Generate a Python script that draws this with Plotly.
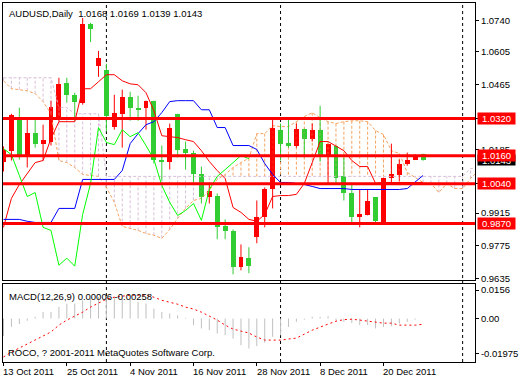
import plotly.graph_objects as go

# ---------------- data ----------------
symbol = "AUDUSD"
period = "Daily"
last_ohlc = [1.0168, 1.0169, 1.0139, 1.0143]

opens = [1.0135, 1.0182, 1.0323, 1.0153, 1.0259, 1.0212, 1.0221, 1.0327, 1.0472, 1.0421,
         1.0387, 1.0724, 1.0545, 1.0528, 1.0285, 1.0340, 1.0413, 1.0366, 1.0366, 1.0396,
         1.0144, 1.0135, 1.0340, 1.0191, 1.0170, 1.0084, 0.9982, 0.9990, 0.9858, 0.9837,
         0.9683, 0.9722, 0.9811, 0.9897, 1.0016, 1.0272, 1.0217, 1.0204, 1.0276, 1.0234,
         1.0272, 1.0153, 1.0204, 1.0072, 0.9999, 0.9901, 0.9905, 0.9982, 0.9875, 1.0063,
         1.0080, 1.0123, 1.0144, 1.0168]
highs = [1.0200, 1.0340, 1.0366, 1.0323, 1.0323, 1.0293, 1.0396, 1.0494, 1.0494, 1.0430,
         1.0750, 1.0729, 1.0609, 1.0554, 1.0421, 1.0443, 1.0434, 1.0417, 1.0396, 1.0396,
         1.0204, 1.0298, 1.0340, 1.0221, 1.0182, 1.0114, 1.0046, 0.9999, 0.9888, 0.9845,
         0.9781, 0.9769, 0.9969, 1.0025, 1.0323, 1.0298, 1.0319, 1.0298, 1.0276, 1.0298,
         1.0374, 1.0212, 1.0204, 1.0153, 1.0042, 1.0016, 1.0016, 0.9982, 1.0067, 1.0212,
         1.0144, 1.0174, 1.0167, 1.0169]
lows = [1.0093, 1.0140, 1.0144, 1.0110, 1.0195, 1.0140, 1.0204, 1.0306, 1.0387, 1.0310,
        1.0379, 1.0647, 1.0498, 1.0264, 1.0272, 1.0195, 1.0310, 1.0310, 1.0272, 1.0127,
        1.0054, 1.0101, 1.0153, 1.0101, 1.0046, 0.9956, 0.9956, 0.9803, 0.9803, 0.9653,
        0.9670, 0.9658, 0.9786, 0.9854, 0.9935, 1.0140, 1.0195, 1.0195, 1.0153, 1.0221,
        1.0135, 1.0042, 1.0042, 0.9969, 0.9875, 0.9854, 0.9905, 0.9871, 0.9875, 1.0042,
        1.0050, 1.0118, 1.0142, 1.0139]
closes = [1.0187, 1.0336, 1.0153, 1.0259, 1.0212, 1.0229, 1.0370, 1.0468, 1.0421, 1.0391,
          1.0724, 1.0703, 1.0579, 1.0332, 1.0345, 1.0413, 1.0366, 1.0357, 1.0396, 1.0144,
          1.0135, 1.0281, 1.0187, 1.0170, 1.0084, 0.9982, 1.0008, 0.9854, 0.9837, 0.9683,
          0.9726, 0.9688, 0.9897, 1.0020, 1.0281, 1.0212, 1.0204, 1.0276, 1.0234, 1.0272,
          1.0153, 1.0212, 1.0067, 0.9999, 0.9897, 0.9909, 0.9965, 0.9880, 1.0067, 1.0084,
          1.0123, 1.0144, 1.0165, 1.0143]

tenkan = [0.9854, 0.9978, 1.0037, 1.0084, 1.0131, 1.0140, 1.0234, 1.0306, 1.0306, 1.0306,
          1.0447, 1.0447, 1.0477, 1.0507, 1.0507, 1.0481, 1.0468, 1.0464, 1.0430, 1.0353,
          1.0246, 1.0242, 1.0238, 1.0229, 1.0221, 1.0182, 1.0136, 1.0097, 1.0063, 0.9939,
          0.9918, 0.9888, 0.9880, 0.9909, 0.9986, 0.9990, 0.9990, 0.9995, 1.0042, 1.0131,
          1.0221, 1.0221, 1.0200, 1.0182, 1.0140, 1.0114, 1.0114, 1.0042, 1.0046, 1.0046,
          1.0046, 1.0046, 1.0046, 1.0046]
kijun = [0.9888, 0.9888, 0.9888, 0.9880, 0.9875, 0.9875, 0.9875, 0.9935, 0.9935, 0.9935,
         1.0059, 1.0059, 1.0059, 1.0059, 1.0059, 1.0097, 1.0212, 1.0255, 1.0293, 1.0306,
         1.0345, 1.0392, 1.0396, 1.0396, 1.0396, 1.0357, 1.0357, 1.0281, 1.0281, 1.0204,
         1.0204, 1.0204, 1.0187, 1.0127, 1.0080, 1.0046, 1.0046, 1.0042, 1.0037, 1.0029,
         1.0020, 1.0020, 1.0020, 1.0020, 1.0016, 1.0016, 1.0016, 1.0016, 1.0016, 1.0016,
         1.0016, 1.0020, 1.0050, 1.0076]
chikou = [1.0191, 1.0165, 1.0076, 0.9986, 1.0003, 0.9854, 0.9841, 0.9692, 0.9722, 0.9688,
          0.9909, 1.0042, 1.0281, 1.0217, 1.0208, 1.0272, 1.0242, 1.0259, 1.0204, 1.0145,
          1.0033, 0.9961, 0.9905, 0.9926, 0.9956, 0.9884, 1.0016, 1.0072, 1.0101, 1.0131,
          1.0161, 1.0148]
span_a = [1.0481, 1.0447, 1.0443, 1.0438, 1.0426, 1.0392, 1.0340, 1.0140, 1.0131, 1.0110,
          1.0080, 1.0076, 1.0072, 1.0025, 0.9961, 0.9858, 0.9850, 0.9841, 0.9828, 0.9820,
          0.9807, 0.9845, 0.9892, 0.9935, 0.9969, 0.9978, 1.0012, 1.0059, 1.0080, 1.0110,
          1.0131, 1.0150, 1.0255, 1.0255, 1.0289, 1.0285, 1.0285, 1.0306, 1.0328, 1.0344,
          1.0323, 1.0306, 1.0298, 1.0306, 1.0310, 1.0310, 1.0306, 1.0268, 1.0251, 1.0182,
          1.0170, 1.0089, 1.0067, 1.0046, 1.0042, 1.0003, 1.0042, 1.0020, 1.0020, 1.0063,
          1.0097]
span_b = [1.0494, 1.0494, 1.0494, 1.0494, 1.0494, 1.0494, 1.0494, 1.0366, 1.0366, 1.0340,
          1.0340, 1.0340, 1.0340, 1.0072, 1.0072, 1.0072, 1.0072, 1.0072, 1.0072, 1.0072,
          1.0072, 1.0072, 1.0072, 1.0072, 1.0072, 1.0072, 1.0072, 1.0072, 1.0072, 1.0072,
          1.0072, 1.0072, 1.0072, 1.0072, 1.0072, 1.0072, 1.0072, 1.0072, 1.0072, 1.0072,
          1.0072, 1.0072, 1.0072, 1.0072, 1.0072, 1.0072, 1.0072, 1.0072, 1.0072, 1.0072,
          1.0072, 1.0072, 1.0072, 1.0072, 1.0072, 1.0072, 1.0072, 1.0072, 1.0072, 1.0106,
          1.0106]

macd_main = [-0.0080, -0.0038, -0.0025, -0.0010, 0.0008, 0.0030, 0.0030, 0.0053, 0.0068, 0.0068,
             0.0083, 0.0091, 0.0098, 0.0098, 0.0098, 0.0091, 0.0091, 0.0076, 0.0068, 0.0045,
             0.0030, 0.0023, 0.0015, 0.0003, -0.0030, -0.0045, -0.0053, -0.0068, -0.0076, -0.0091,
             -0.0121, -0.0136, -0.0125, -0.0110, -0.0083, -0.0076, -0.0038, -0.0015, -0.0005, 0.0008,
             0.0008, 0.0011, -0.0008, -0.0015, -0.0020, -0.0030, -0.0030, -0.0045, -0.0038, -0.0035,
             -0.0023, -0.0015, -0.0005, 0.00006]
macd_signal = [-0.0175, -0.0152, -0.0134, -0.0116, -0.0098, -0.0080, -0.0061, -0.0030, -0.0007, 0.0011,
               0.0029, 0.0052, 0.0070, 0.0088, 0.0097, 0.0102, 0.0106, 0.0106, 0.0106, 0.0097,
               0.0083, 0.0074, 0.0065, 0.0052, 0.0043, 0.0029, 0.0011, -0.0007, -0.0030, -0.0048,
               -0.0057, -0.0066, -0.0084, -0.0098, -0.0098, -0.0098, -0.0093, -0.0089, -0.0071, -0.0053,
               -0.0039, -0.0025, -0.0012, -0.0005, -0.0003, -0.0007, -0.0012, -0.0016, -0.0021, -0.0021,
               -0.0030, -0.0030, -0.0030, -0.00258]

level_values = [1.0320, 1.0160, 1.0040, 0.9870]
level_texts = ["1.0320", "1.0160", "1.0040", "0.9870"]

price_ticks = [1.0740, 1.0605, 1.0465, 1.0320, 1.0185, 1.0040, 0.9915, 0.9775, 0.9635]
price_tick_text = ["1.0740", "1.0605", "1.0465", "1.0320", "1.0185", "1.0040", "0.9915", "0.9775", "0.9635"]

macd_tick_vals = [0.0129, 0.0, -0.0161]
macd_tick_text = ["0.0156", "0.00", "-0.01975"]
macd_range = [-0.01975, 0.0156]
price_range = [0.96278, 1.08138]

date_idx = [0, 8, 16, 24, 32, 40, 48]
date_labels = ["13 Oct 2011", "25 Oct 2011", "4 Nov 2011", "16 Nov 2011",
               "28 Nov 2011", "8 Dec 2011", "20 Dec 2011"]
separator_idx = [13, 35, 58]

macd_label = "MACD(12,26,9) 0.00006 -0.00258"
copyright_text = "ROCO, ? 2001-2011 MetaQuotes Software Corp."

# ---------------- styling ----------------
FONT = "Liberation Sans"
FS = 9.5
UP = "#FF0000"
DOWN = "#32CD32"
SANDY = "#F4A460"
THISTLE = "#D8BFD8"

fig = go.Figure()

# cloud hatching
ha_x, ha_y, hb_x, hb_y = [], [], [], []
for i, (a, b) in enumerate(zip(span_a, span_b)):
    if a >= b:
        ha_x += [i, i, None]; ha_y += [a, b, None]
    else:
        hb_x += [i, i, None]; hb_y += [a, b, None]
fig.add_trace(go.Scatter(x=ha_x, y=ha_y, mode="lines", line=dict(color=SANDY, width=1, dash="3px,2px"),
                         hoverinfo="skip", xaxis="x", yaxis="y"))
fig.add_trace(go.Scatter(x=hb_x, y=hb_y, mode="lines", line=dict(color=THISTLE, width=1, dash="3px,2px"),
                         hoverinfo="skip", xaxis="x", yaxis="y"))
fig.add_trace(go.Scatter(x=list(range(len(span_b))), y=span_b, mode="lines",
                         line=dict(color=THISTLE, width=1, dash="3px,2px"), xaxis="x", yaxis="y"))
fig.add_trace(go.Scatter(x=list(range(len(span_a))), y=span_a, mode="lines",
                         line=dict(color=SANDY, width=1, dash="3px,2px"), xaxis="x", yaxis="y"))

# candles
n = len(opens)
up_ids = [i for i in range(n) if closes[i] >= opens[i]]
dn_ids = [i for i in range(n) if closes[i] < opens[i]]


def wicks(ids):
    xs, ys = [], []
    for i in ids:
        xs += [i, i, None]
        ys += [lows[i], highs[i], None]
    return xs, ys


for ids, col in ((up_ids, UP), (dn_ids, DOWN)):
    wx, wy = wicks(ids)
    fig.add_trace(go.Scatter(x=wx, y=wy, mode="lines", line=dict(color=col, width=1),
                             hoverinfo="skip", xaxis="x", yaxis="y"))
    fig.add_trace(go.Bar(x=ids, base=[min(opens[i], closes[i]) for i in ids],
                         y=[abs(closes[i] - opens[i]) for i in ids], width=0.625,
                         marker=dict(color=col, line=dict(width=0)), xaxis="x", yaxis="y"))

# ichimoku lines
fig.add_trace(go.Scatter(x=list(range(len(tenkan))), y=tenkan, mode="lines",
                         line=dict(color="#FF0000", width=1), xaxis="x", yaxis="y"))
fig.add_trace(go.Scatter(x=list(range(len(kijun))), y=kijun, mode="lines",
                         line=dict(color="#0000FF", width=1), xaxis="x", yaxis="y"))
fig.add_trace(go.Scatter(x=list(range(len(chikou))), y=chikou, mode="lines",
                         line=dict(color="#00FF00", width=1), xaxis="x", yaxis="y"))

# MACD
mx, my = [], []
for i, v in enumerate(macd_main):
    mx += [i, i, None]
    my += [0, v, None]
fig.add_trace(go.Scatter(x=mx, y=my, mode="lines", line=dict(color="#C0C0C0", width=1),
                         xaxis="x2", yaxis="y2"))
fig.add_trace(go.Scatter(x=list(range(len(macd_signal))), y=macd_signal, mode="lines",
                         line=dict(color="#FF0000", width=1, dash="2px,3px"), xaxis="x2", yaxis="y2"))

shapes = []
for s in separator_idx:
    shapes.append(dict(type="line", xref="x", yref="paper", x0=s, x1=s, y0=0, y1=1,
                       line=dict(color="black", width=1, dash="3px,3px"), layer="below"))
for v in level_values:
    shapes.append(dict(type="line", xref="paper", yref="y", x0=0, x1=1, y0=v, y1=v,
                       line=dict(color="#FF0000", width=3), layer="above"))

annotations = []
annotations.append(dict(xref="paper", yref="paper", x=0, y=1, xanchor="left", yanchor="top",
                        xshift=4, yshift=-3, showarrow=False,
                        text=f"{symbol},{period}&nbsp; " + " ".join(f"{v:.4f}" for v in last_ohlc),
                        font=dict(family=FONT, size=FS, color="black")))
annotations.append(dict(xref="paper", yref="paper", x=0, y=0.2167, xanchor="left", yanchor="top",
                        xshift=4, yshift=-5, showarrow=False, text=macd_label,
                        font=dict(family=FONT, size=FS, color="black")))
annotations.append(dict(xref="paper", yref="paper", x=0, y=0, xanchor="left", yanchor="bottom",
                        xshift=3, yshift=2, showarrow=False, text=copyright_text,
                        font=dict(family=FONT, size=FS, color="black")))
for i, lab in zip(date_idx, date_labels):
    annotations.append(dict(xref="x2", yref="paper", x=i, y=0, xanchor="left", yanchor="top",
                            xshift=-2, yshift=-2, showarrow=False, text=lab,
                            font=dict(family=FONT, size=FS, color="black")))
# current price label (mostly hidden)
annotations.append(dict(xref="paper", yref="y", x=1, y=last_ohlc[3], xanchor="left", yanchor="middle",
                        xshift=2, showarrow=False, text=f"{last_ohlc[3]:.4f}", bgcolor="black",
                        width=37, height=10, borderpad=0, font=dict(family=FONT, size=FS, color="white")))
for v, t in zip(level_values, level_texts):
    annotations.append(dict(xref="paper", yref="y", x=1, y=v, xanchor="left", yanchor="middle",
                            xshift=2, showarrow=False, text=t, bgcolor="#FF0000",
                            width=37, height=11, borderpad=0,
                            font=dict(family=FONT, size=FS, color="white")))

xr = [-0.0625, 59.5625]
axis_common = dict(showline=True, mirror=True, linecolor="black", linewidth=1,
                   showgrid=False, zeroline=False)

fig.update_layout(
    width=520, height=380,
    margin=dict(l=3, r=40, t=2, b=18),
    paper_bgcolor="white", plot_bgcolor="white",
    showlegend=False, barmode="overlay", bargap=0,
    font=dict(family=FONT, size=FS, color="black"),
    xaxis=dict(domain=[0, 1], range=xr, anchor="y", showticklabels=False, ticks="", **axis_common),
    yaxis=dict(domain=[0.2278, 1], range=price_range, side="right", anchor="x",
               tickvals=price_ticks, ticktext=price_tick_text, ticks="outside", ticklen=3,
               tickcolor="black", tickfont=dict(family=FONT, size=FS, color="black"), **axis_common),
    xaxis2=dict(domain=[0, 1], range=xr, anchor="y2", showticklabels=False, ticks="outside",
                ticklen=3, tickcolor="black", tickvals=date_idx, **axis_common),
    yaxis2=dict(domain=[0, 0.2167], range=macd_range, side="right", anchor="x2",
                tickvals=macd_tick_vals, ticktext=macd_tick_text, ticks="outside", ticklen=3,
                tickcolor="black", tickfont=dict(family=FONT, size=FS, color="black"), **axis_common),
    shapes=shapes,
    annotations=annotations,
    hovermode=False,
)

fig.write_html("out.html", config={"displayModeBar": False},
               post_script="document.body.style.margin='0';document.body.style.overflow='hidden';")
